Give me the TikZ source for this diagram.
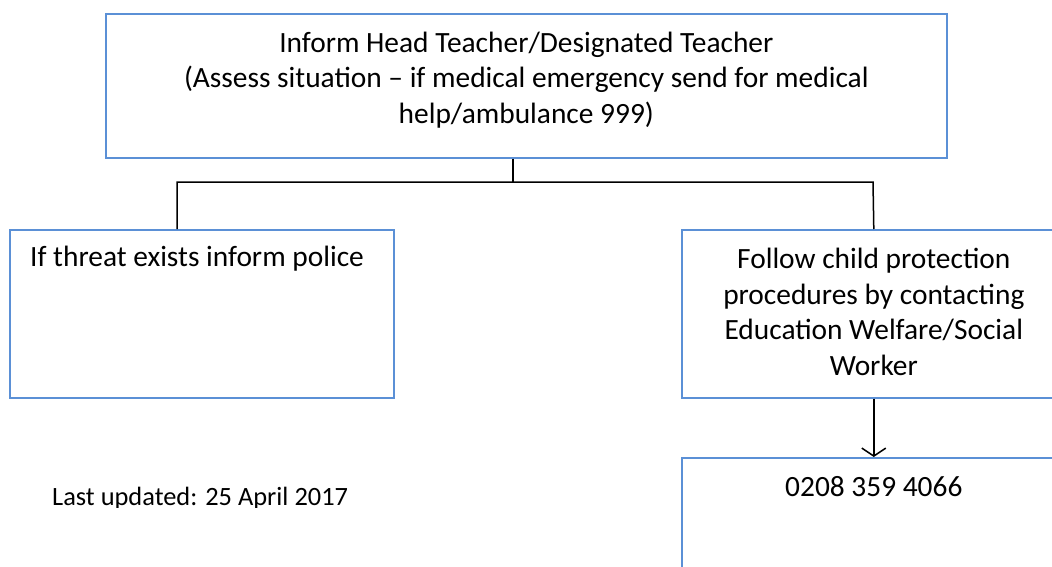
\documentclass[tikz,border=0pt]{standalone}
\usepackage{fontspec}
\setmainfont{Carlito}
\usetikzlibrary{arrows.meta, positioning, calc}
\definecolor{boxblue}{RGB}{91,144,214}
\tikzstyle{arrow} = [line width=1.5pt,-{Straight Barb[length=8pt,width=24pt]}]

\begin{document}
\begin{tikzpicture}[x=1pt, y=-1pt,
        every node/.style={font=\fontsize{29.4}{35.5}\selectfont, text=black},
        box/.style={rectangle, draw=boxblue, line width=1.6pt, inner sep=0pt},
        link/.style={line width=1.5pt, black}
      ]
        \clip (0,0) rectangle (1052,567);

        % Boxes
        \node (head) [box, anchor=north west, minimum width=841pt, minimum height=144pt,
          label={[align=center, inner sep=0pt, yshift=6pt]center:Inform Head Teacher/Designated Teacher\\(Assess situation -- if medical emergency send for medical\\help/ambulance 999)}] at (105,13) {};
        \node (police) [box, anchor=north west, minimum width=384pt, minimum height=168pt,
          label={[anchor=north west, inner sep=0pt, xshift=21pt, yshift=-17pt]north west:If threat exists inform police}] at (9,229) {};
        \node (cp) [box, anchor=north west, minimum width=384pt, minimum height=168pt,
          label={[align=center, inner sep=0pt, yshift=2pt]center:Follow child protection\\procedures by contacting\\Education Welfare/Social\\Worker}] at (681,229) {};
        \node (phone) [box, anchor=north west, minimum width=384pt, minimum height=168pt,
          label={[anchor=north, inner sep=0pt, yshift=-19pt]north:0208 359 4066}] at (681,457) {};

        % Connectors
        \coordinate (hub) at (513,182);
        \coordinate (lbranch) at (177,182);
        \coordinate (rbranch) at (873,182);
        \draw [link] (hub |- head.south) -- (hub);
        \draw [link] (lbranch |- police.north) -- (lbranch) -- (rbranch) -- (cp.north);
        \draw [arrow] (cp.south) -- (phone.north);

        % Footer (cut off at the bottom, as printed)
        \begin{scope}
          \clip (0,0) rectangle (1052,507);
          \node (updated) [anchor=base west, inner sep=0pt, font=\fontsize{26.4}{30}\selectfont] at (52,505) {Last updated: 25 April 2017};
        \end{scope}
      \end{tikzpicture}
\end{document}
